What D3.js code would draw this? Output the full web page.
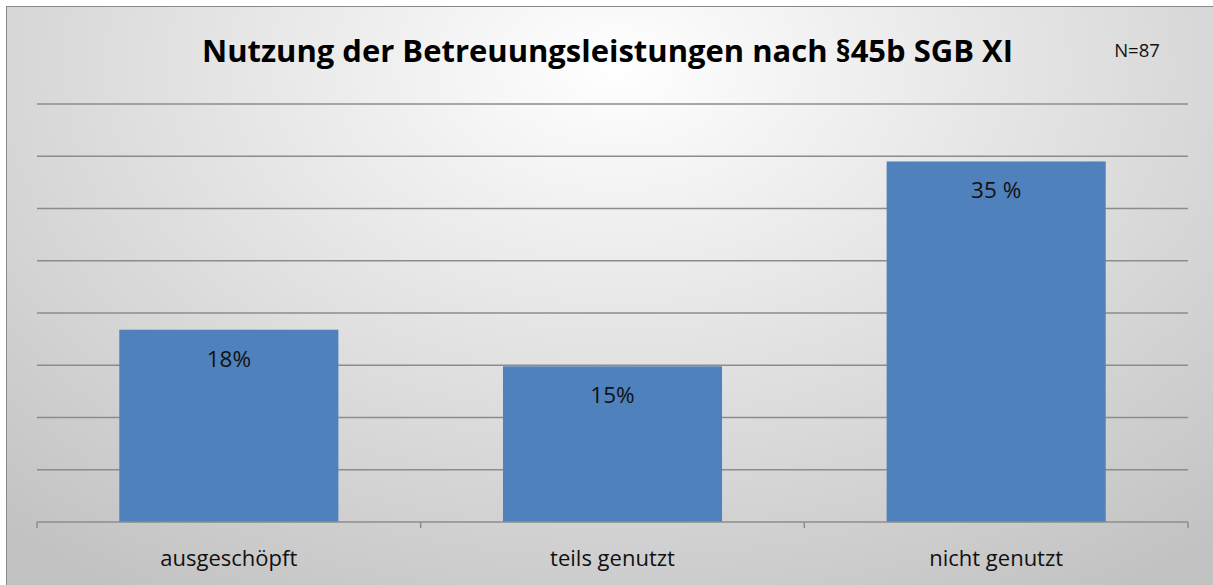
<!DOCTYPE html>
<html><head><meta charset="utf-8">
<script src="https://cdn.jsdelivr.net/npm/d3@7"></script>
<style>html,body{margin:0;padding:0;background:#fff;}svg{display:block;}</style>
</head><body>
<script>
const categories = ["ausgeschöpft", "teils genutzt", "nicht genutzt"];
const values = [18.4, 14.9, 34.5];
const valueLabels = ["18%", "15%", "35 %"];
const yTicks = [0, 5, 10, 15, 20, 25, 30, 35, 40];
const chartTitle = "Nutzung der Betreuungsleistungen nach §45b SGB XI";
const note = "N=87";

(function () {
const W = 1213, H = 585;
const svg = d3.select("body").append("svg").attr("width", W).attr("height", H);
const defs = svg.append("defs");
const g = defs.append("radialGradient").attr("id", "bg")
  .attr("cx", "50%").attr("cy", "10%").attr("r", "75%")
  .attr("gradientTransform", "translate(0.5,0.1) scale(1,1.4) translate(-0.5,-0.1)");
g.append("stop").attr("offset", "0%").attr("stop-color", "#ffffff");
g.append("stop").attr("offset", "100%").attr("stop-color", "#c2c2c2");

svg.append("rect").attr("x", 6.5).attr("y", 6.5).attr("width", W + 10).attr("height", H + 10)
  .attr("fill", "url(#bg)").attr("stroke", "#8a8a8a").attr("stroke-width", 1);

const pl = 37, pr = 1188, pt = 104, pb = 522;
const x = d3.scaleBand().domain(categories).range([pl, pr]).paddingInner(0.429).paddingOuter(0.2145);
const xb = d3.scaleBand().domain(categories).range([pl, pr]);
const y = d3.scaleLinear().domain([0, 40]).range([pb, pt]);

// gridlines
svg.append("g").selectAll("line").data(yTicks.filter(d => d > 0)).join("line")
  .attr("x1", pl).attr("x2", pr)
  .attr("y1", d => y(d)).attr("y2", d => y(d))
  .attr("stroke", "#8c8c8c").attr("stroke-width", 1.5);

// bars
svg.append("g").selectAll("rect").data(values).join("rect")
  .attr("x", (d, i) => x(categories[i])).attr("width", x.bandwidth())
  .attr("y", d => y(d)).attr("height", d => pb - y(d))
  .attr("fill", "#4f81bd");

// x axis
const xAxis = svg.append("g").attr("transform", `translate(0,${pb})`)
  .call(d3.axisBottom(xb).tickSize(0).tickFormat(""));
xAxis.select(".domain").remove();
svg.append("line").attr("x1", pl).attr("x2", pr).attr("y1", pb).attr("y2", pb)
  .attr("stroke", "#8c8c8c").attr("stroke-width", 1.5);
const bounds = categories.map(c => xb(c)).concat([pr]);
svg.append("g").selectAll("line").data(bounds).join("line")
  .attr("x1", d => d).attr("x2", d => d).attr("y1", pb).attr("y2", pb + 6)
  .attr("stroke", "#8c8c8c").attr("stroke-width", 1.5);

svg.append("g").selectAll("text").data(categories).join("text")
  .attr("x", d => xb(d) + xb.bandwidth() / 2).attr("y", 566)
  .attr("text-anchor", "middle").attr("font-family", "Open Sans, sans-serif")
  .attr("font-size", 22).attr("fill", "#111").text(d => d);

// value labels
svg.append("g").selectAll("text").data(values).join("text")
  .attr("x", (d, i) => x(categories[i]) + x.bandwidth() / 2)
  .attr("y", d => y(d) + 37)
  .attr("text-anchor", "middle").attr("font-family", "Open Sans, sans-serif")
  .attr("font-size", 22.5).attr("fill", "#111").text((d, i) => valueLabels[i]);

// title
svg.append("text").attr("x", 607.5).attr("y", 62).attr("text-anchor", "middle")
  .attr("font-family", "Open Sans, sans-serif").attr("font-weight", "bold")
  .attr("font-size", 31).attr("fill", "#000")
  .attr("textLength", 811).attr("lengthAdjust", "spacingAndGlyphs").text(chartTitle);
svg.append("text").attr("x", 1137).attr("y", 57).attr("text-anchor", "middle")
  .attr("font-family", "Open Sans, sans-serif").attr("font-size", 18.5).attr("fill", "#111").text(note);
})();
</script>
</body></html>
